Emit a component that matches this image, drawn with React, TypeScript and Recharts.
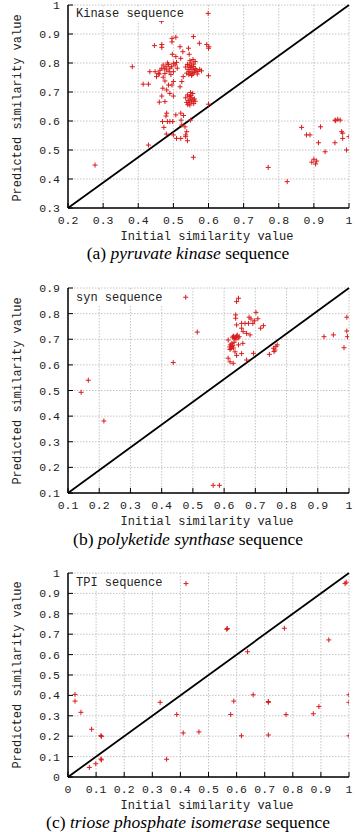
import React from 'react';
import { ScatterChart, Scatter, XAxis, YAxis, CartesianGrid, ReferenceLine } from 'recharts';

// ---------- data ----------
const kinasePoints: [number, number][] = [
  [0.599, 0.971], [0.468, 0.952], [0.466, 0.944],
  [0.446, 0.860], [0.467, 0.864], [0.467, 0.854], [0.496, 0.885], [0.496, 0.873], [0.507, 0.889],
  [0.519, 0.856], [0.543, 0.851], [0.557, 0.891], [0.574, 0.868], [0.595, 0.864], [0.601, 0.856],
  [0.600, 0.851], [0.527, 0.839], [0.497, 0.830], [0.507, 0.822], [0.521, 0.816], [0.545, 0.830],
  [0.471, 0.793], [0.479, 0.787], [0.486, 0.795], [0.490, 0.782], [0.495, 0.787], [0.500, 0.799],
  [0.505, 0.793], [0.509, 0.802], [0.511, 0.782], [0.481, 0.776], [0.476, 0.764], [0.488, 0.770],
  [0.500, 0.770], [0.467, 0.782], [0.457, 0.764], [0.452, 0.753], [0.448, 0.770], [0.483, 0.800],
  [0.474, 0.780], [0.493, 0.760], [0.462, 0.775],
  [0.433, 0.770], [0.414, 0.727], [0.429, 0.727], [0.383, 0.787],
  [0.460, 0.762], [0.471, 0.751], [0.476, 0.738], [0.486, 0.724], [0.470, 0.713], [0.481, 0.707], [0.500, 0.736],
  [0.540, 0.795], [0.545, 0.790], [0.550, 0.800], [0.548, 0.784], [0.553, 0.778], [0.557, 0.788],
  [0.560, 0.772], [0.562, 0.781], [0.545, 0.770], [0.550, 0.766], [0.555, 0.762], [0.565, 0.776],
  [0.570, 0.771], [0.575, 0.778], [0.558, 0.796], [0.542, 0.778], [0.538, 0.765], [0.552, 0.757],
  [0.568, 0.762], [0.580, 0.773], [0.547, 0.808], [0.556, 0.812], [0.562, 0.805], [0.535, 0.786],
  [0.551, 0.790], [0.559, 0.767], [0.544, 0.760],
  [0.600, 0.756], [0.528, 0.753], [0.524, 0.736], [0.519, 0.718],
  [0.496, 0.724], [0.490, 0.695], [0.500, 0.686], [0.467, 0.686], [0.476, 0.667], [0.460, 0.665],
  [0.540, 0.690], [0.545, 0.684], [0.550, 0.688], [0.553, 0.680], [0.548, 0.675], [0.556, 0.672],
  [0.542, 0.670], [0.538, 0.664], [0.545, 0.662], [0.552, 0.666], [0.558, 0.660], [0.547, 0.655],
  [0.560, 0.676], [0.535, 0.680], [0.555, 0.695], [0.549, 0.698], [0.562, 0.668], [0.541, 0.656],
  [0.600, 0.658],
  [0.481, 0.627], [0.479, 0.617], [0.507, 0.621], [0.521, 0.627], [0.529, 0.619], [0.490, 0.598],
  [0.522, 0.603], [0.469, 0.598], [0.483, 0.598], [0.498, 0.598], [0.549, 0.603], [0.473, 0.578],
  [0.524, 0.586], [0.480, 0.555], [0.500, 0.552], [0.509, 0.540], [0.521, 0.540], [0.533, 0.580],
  [0.538, 0.563], [0.535, 0.552], [0.535, 0.546], [0.540, 0.532], [0.557, 0.475], [0.429, 0.517],
  [0.277, 0.448],
  [0.770, 0.440], [0.824, 0.391], [0.865, 0.578], [0.879, 0.552], [0.889, 0.552], [0.919, 0.580],
  [0.913, 0.525], [0.932, 0.494], [0.960, 0.603], [0.975, 0.603], [0.962, 0.601], [0.968, 0.606],
  [0.960, 0.525], [0.979, 0.563], [0.982, 0.558], [0.982, 0.540], [0.993, 0.500], [1.0, 0.546],
  [0.894, 0.458], [0.900, 0.468], [0.908, 0.462], [0.905, 0.452],
];

const synPoints: [number, number][] = [
  [0.477, 0.864], [0.646, 0.860], [0.640, 0.847],
  [0.637, 0.795], [0.637, 0.782], [0.640, 0.756], [0.680, 0.786], [0.686, 0.779], [0.702, 0.805],
  [0.656, 0.762], [0.667, 0.762], [0.678, 0.762], [0.692, 0.762], [0.726, 0.753], [0.717, 0.743],
  [0.656, 0.743], [0.661, 0.730], [0.672, 0.723], [0.683, 0.717], [0.697, 0.772], [0.708, 0.780],
  [0.514, 0.728],
  [0.630, 0.712], [0.635, 0.708], [0.640, 0.712], [0.645, 0.705], [0.638, 0.700], [0.632, 0.703],
  [0.648, 0.710], [0.627, 0.708], [0.642, 0.716],
  [0.613, 0.697],
  [0.660, 0.684], [0.646, 0.678], [0.625, 0.672], [0.630, 0.666], [0.619, 0.660], [0.635, 0.651],
  [0.620, 0.678], [0.625, 0.684], [0.618, 0.670], [0.628, 0.676], [0.632, 0.688], [0.622, 0.664],
  [0.613, 0.626], [0.619, 0.612], [0.629, 0.606], [0.640, 0.637], [0.656, 0.644], [0.672, 0.619],
  [0.694, 0.645], [0.745, 0.641],
  [0.758, 0.665], [0.766, 0.672], [0.760, 0.652], [0.763, 0.658], [0.770, 0.678],
  [0.920, 0.710], [0.950, 0.717], [0.993, 0.786], [0.993, 0.732], [0.995, 0.710], [0.984, 0.667],
  [0.437, 0.609], [0.165, 0.540], [0.142, 0.493], [0.215, 0.381], [0.565, 0.130], [0.585, 0.130],
];

const tpiPoints: [number, number][] = [
  [0.420, 0.948], [0.986, 0.948], [0.990, 0.955], [0.565, 0.724], [0.567, 0.728], [0.770, 0.729],
  [0.928, 0.672], [0.639, 0.614],
  [0.025, 0.405], [0.025, 0.372], [0.046, 0.317], [0.084, 0.234], [0.117, 0.203], [0.119, 0.199],
  [0.076, 0.047], [0.099, 0.065], [0.117, 0.088], [0.119, 0.084],
  [0.328, 0.366], [0.351, 0.087], [0.387, 0.306], [0.410, 0.216], [0.466, 0.221], [0.579, 0.306],
  [0.590, 0.372], [0.617, 0.202], [0.659, 0.403], [0.713, 0.366], [0.713, 0.370], [0.713, 0.206],
  [0.776, 0.306], [0.873, 0.310], [0.893, 0.345], [1.0, 0.403], [1.0, 0.366], [1.0, 0.202],
];

const kinaseXTicks = [0.2, 0.3, 0.4, 0.5, 0.6, 0.7, 0.8, 0.9, 1];
const kinaseYTicks = [0.3, 0.4, 0.5, 0.6, 0.7, 0.8, 0.9, 1];
const synXTicks = [0.1, 0.2, 0.3, 0.4, 0.5, 0.6, 0.7, 0.8, 0.9, 1];
const synYTicks = [0.1, 0.2, 0.3, 0.4, 0.5, 0.6, 0.7, 0.8, 0.9];
const tpiXTicks = [0, 0.1, 0.2, 0.3, 0.4, 0.5, 0.6, 0.7, 0.8, 0.9, 1];
const tpiYTicks = [0, 0.1, 0.2, 0.3, 0.4, 0.5, 0.6, 0.7, 0.8, 0.9, 1];

const xTitle = 'Initial similarity value';
const yTitle = 'Predicted similarity value';

// ---------- helpers ----------
const MONO = '"Liberation Mono", "DejaVu Sans Mono", monospace';
const SERIF = '"Liberation Serif", "DejaVu Serif", serif';
const RED = '#d91c1c';

const fmt = (v: number) => (v === 0 ? '0' : v === 1 ? '1' : v.toFixed(1));
const toObj = (pts: [number, number][]) => pts.map(([x, y]) => ({ x, y }));

const Plus = (props: any) => {
  const { cx, cy } = props;
  if (cx == null || cy == null) return null;
  const s = 2.5;
  return (
    <path
      d={`M${cx - s},${cy}H${cx + s}M${cx},${cy - s}V${cy + s}`}
      stroke={RED}
      strokeWidth={1}
      fill="none"
    />
  );
};

const tickStyle = { fontFamily: MONO, fontSize: 11.5, fill: '#222' };

type PanelProps = {
  top: number;
  height: number;
  points: [number, number][];
  xDomain: [number, number];
  yDomain: [number, number];
  xTicks: number[];
  yTicks: number[];
};

const Panel = ({ top, height, points, xDomain, yDomain, xTicks, yTicks }: PanelProps) => {
  const data = toObj(points);
  return (
    <div style={{ position: 'absolute', left: 0, top }}>
      <ScatterChart width={357} height={height} margin={{ top: 5, right: 8, left: 0, bottom: 0 }}>
        <CartesianGrid stroke="#b5b5b5" strokeDasharray="1.5 1.5" strokeWidth={0.8} />
        <XAxis
          type="number"
          dataKey="x"
          domain={xDomain}
          ticks={xTicks}
          allowDataOverflow
          height={22}
          tickSize={-5}
          tickMargin={13}
          tickFormatter={fmt}
          tick={tickStyle}
          axisLine={{ stroke: '#000', strokeWidth: 1.5 }}
          tickLine={{ stroke: '#000', strokeWidth: 1 }}
          interval={0}
        />
        <YAxis
          type="number"
          dataKey="y"
          domain={yDomain}
          ticks={yTicks}
          allowDataOverflow
          width={68}
          tickSize={-5}
          tickMargin={13}
          tickFormatter={fmt}
          tick={tickStyle}
          axisLine={{ stroke: '#000', strokeWidth: 1.5 }}
          tickLine={{ stroke: '#000', strokeWidth: 1 }}
          interval={0}
        />
        <XAxis
          xAxisId="top"
          orientation="top"
          type="number"
          domain={xDomain}
          ticks={xTicks}
          allowDataOverflow
          height={0}
          tickSize={-5}
          tickFormatter={() => ''}
          axisLine={{ stroke: '#000', strokeWidth: 1.5 }}
          tickLine={{ stroke: '#000', strokeWidth: 1 }}
          interval={0}
        />
        <YAxis
          yAxisId="right"
          orientation="right"
          type="number"
          domain={yDomain}
          ticks={yTicks}
          allowDataOverflow
          width={0}
          tickSize={-5}
          tickFormatter={() => ''}
          axisLine={{ stroke: '#000', strokeWidth: 1.5 }}
          tickLine={{ stroke: '#000', strokeWidth: 1 }}
          interval={0}
        />
        <ReferenceLine
          segment={[
            { x: xDomain[0], y: yDomain[0] },
            { x: xDomain[1], y: yDomain[1] },
          ]}
          stroke="#000"
          strokeWidth={1.8}
          ifOverflow="extendDomain"
        />
        <Scatter data={data} shape={<Plus />} isAnimationActive={false} />
      </ScatterChart>
    </div>
  );
};

const textBase: React.CSSProperties = {
  position: 'absolute',
  whiteSpace: 'nowrap',
  lineHeight: 1,
};

const XTitle = ({ y }: { y: number }) => (
  <div style={{ ...textBase, left: 207, top: y, transform: 'translate(-50%, -50%)', fontFamily: MONO, fontSize: 12, color: '#222' }}>
    {xTitle}
  </div>
);

const YTitle = ({ y }: { y: number }) => (
  <div style={{ ...textBase, left: 18, top: y, transform: 'translate(-50%, -50%) rotate(-90deg)', fontFamily: MONO, fontSize: 12, color: '#222' }}>
    {yTitle}
  </div>
);

const Key = ({ y, text }: { y: number; text: string }) => (
  <div style={{ ...textBase, left: 72, top: y - 7, padding: '1px 4px', background: '#fff', fontFamily: MONO, fontSize: 12, color: '#222' }}>
    {text}
  </div>
);

const Caption = ({ y, label, name }: { y: number; label: string; name: string }) => (
  <div style={{ ...textBase, left: 188, top: y, transform: 'translate(-50%, -50%)', fontFamily: SERIF, fontSize: 17.5, color: '#000' }}>
    {label} <i>{name}</i> sequence
  </div>
);

export default function App() {
  return (
    <div style={{ position: 'absolute', left: 0, top: 0, width: 357, height: 832, background: '#fff', overflow: 'hidden' }}>
      <Panel top={0} height={230} points={kinasePoints} xDomain={[0.2, 1]} yDomain={[0.3, 1]} xTicks={kinaseXTicks} yTicks={kinaseYTicks} />
      <Key y={14} text="Kinase sequence" />
      <XTitle y={237} />
      <YTitle y={108} />
      <Caption y={253.5} label="(a)" name="pyruvate kinase" />

      <Panel top={283} height={232} points={synPoints} xDomain={[0.1, 1]} yDomain={[0.1, 0.9]} xTicks={synXTicks} yTicks={synYTicks} />
      <Key y={298} text="syn sequence" />
      <XTitle y={522} />
      <YTitle y={391} />
      <Caption y={539.5} label="(b)" name="polyketide synthase" />

      <Panel top={568} height={231} points={tpiPoints} xDomain={[0, 1]} yDomain={[0, 1]} xTicks={tpiXTicks} yTicks={tpiYTicks} />
      <Key y={583} text="TPI sequence" />
      <XTitle y={806} />
      <YTitle y={675} />
      <Caption y={823} label="(c)" name="triose phosphate isomerase" />
    </div>
  );
}
